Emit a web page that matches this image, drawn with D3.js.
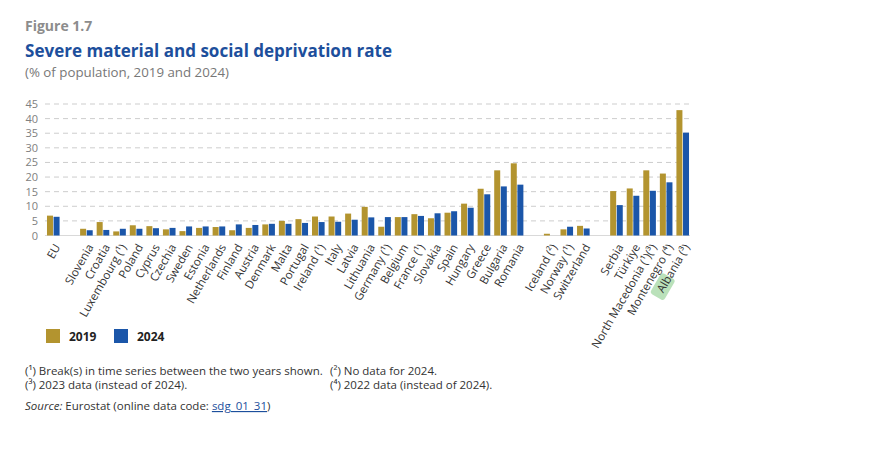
<!DOCTYPE html>
<html>
<head>
<meta charset="utf-8">
<script src="https://d3js.org/d3.v7.min.js"></script>
<style>
  body { margin: 0; background: #fff; }
  text { font-family: "Open Sans", "Noto Sans", sans-serif; }
</style>
</head>
<body>
<svg width="870" height="466"></svg>
<script>
// categories ("" entries are the gaps between country groups)
var categories = ["EU", "", "Slovenia", "Croatia", "Luxembourg (¹)", "Poland", "Cyprus", "Czechia",
  "Sweden", "Estonia", "Netherlands", "Finland", "Austria", "Denmark", "Malta", "Portugal",
  "Ireland (¹)", "Italy", "Latvia", "Lithuania", "Germany (¹)", "Belgium", "France (¹)", "Slovakia",
  "Spain", "Hungary", "Greece", "Bulgaria", "Romania", "", "Iceland (²)", "Norway (¹)", "Switzerland",
  "", "Serbia", "Türkiye", "North Macedonia (¹)(³)", "Montenegro (⁴)", "Albania (³)"];

var values2019 = [6.8, null, 2.3, 4.6, 1.4, 3.5, 3.2, 2.1,
  1.5, 2.6, 2.9, 1.8, 2.6, 3.8, 5.0, 5.6,
  6.5, 6.5, 7.5, 9.8, 3.0, 6.3, 7.3, 5.9,
  7.8, 10.9, 16.0, 22.3, 24.7, null, 0.6, 2.1, 3.3,
  null, 15.2, 16.1, 22.3, 21.2, 42.9];

var values2024 = [6.4, null, 1.8, 1.9, 2.3, 2.3, 2.5, 2.6,
  3.1, 3.1, 3.1, 3.8, 3.6, 4.0, 4.0, 4.3,
  4.6, 4.7, 5.4, 6.2, 6.3, 6.3, 6.7, 7.6,
  8.3, 9.5, 14.1, 16.8, 17.4, null, null, 3.0, 2.4,
  null, 10.4, 13.6, 15.3, 18.2, 35.2];

var yTicks = [0, 5, 10, 15, 20, 25, 30, 35, 40, 45];
var seriesNames = ["2019", "2024"];
var colors = ["#b3942f", "#1b56a9"];

var svg = d3.select("svg");

var keys = categories.map(function(c, i) { return i; });
var x = d3.scaleBand().domain(keys).range([45, 691]).padding(0);
var y = d3.scaleLinear().domain([0, 45]).range([235.5, 104]);
var barW = 6;

// titles
svg.append("text").attr("x", 25).attr("y", 31)
  .attr("font-size", 14).attr("font-weight", "bold").attr("fill", "#8c8c8c")
  .text("Figure 1.7");
svg.append("text").attr("x", 25).attr("y", 57)
  .attr("font-size", 18).attr("font-weight", "bold").attr("fill", "#1d4f9c")
  .attr("textLength", 367).attr("lengthAdjust", "spacingAndGlyphs")
  .text("Severe material and social deprivation rate");
svg.append("text").attr("x", 25).attr("y", 77)
  .attr("font-size", 13.3).attr("fill", "#777")
  .text("(% of population, 2019 and 2024)");

// gridlines
svg.append("g").selectAll("line").data(yTicks.filter(function(d) { return d > 0; }))
  .enter().append("line")
  .attr("x1", 45).attr("x2", 690)
  .attr("y1", function(d) { return y(d); }).attr("y2", function(d) { return y(d); })
  .attr("stroke", "#cdcdcd").attr("stroke-dasharray", "5,4").attr("stroke-width", 1);
svg.append("line").attr("x1", 45).attr("x2", 690)
  .attr("y1", y(0)).attr("y2", y(0)).attr("stroke", "#d9d9d9");

// y axis
var yAxis = svg.append("g").attr("transform", "translate(40,0)")
  .call(d3.axisLeft(y).tickValues(yTicks).tickSize(0).tickPadding(2));
yAxis.select(".domain").remove();
yAxis.selectAll("text").attr("font-size", 11).attr("fill", "#808080")
  .attr("font-family", "Open Sans, sans-serif");

// bars
var series = [values2019, values2024];
series.forEach(function(vals, s) {
  svg.append("g").selectAll("rect")
    .data(vals.map(function(v, i) { return {i: i, v: v}; }).filter(function(d) { return d.v != null; }))
    .enter().append("rect")
    .attr("x", function(d) { return x(d.i) + x.bandwidth() / 2 + (s === 0 ? -barW - 0.3 : 0.3); })
    .attr("y", function(d) { return y(d.v); })
    .attr("width", barW)
    .attr("height", function(d) { return y(0) - y(d.v); })
    .attr("fill", colors[s]);
});

// x axis labels
var xAxis = svg.append("g").attr("transform", "translate(0,242)")
  .call(d3.axisBottom(x).tickSize(0).tickFormat(function(d) { return categories[d]; }));
xAxis.select(".domain").remove();
xAxis.selectAll(".tick").each(function(d) {
  if (categories[d] === "Albania (³)") {
    d3.select(this).insert("rect", "text")
      .attr("x", -60).attr("y", -8).attr("width", 24).attr("height", 16).attr("rx", 3)
      .attr("fill", "#a9d9a9").attr("opacity", 0.8)
      .attr("transform", "translate(4,3) rotate(-60)");
  }
});
xAxis.selectAll("text")
  .attr("font-size", 11.5).attr("fill", "#333")
  .attr("font-family", "Open Sans, sans-serif")
  .attr("text-anchor", "end")
  .attr("dy", "0.35em")
  .attr("y", 0)
  .attr("transform", "translate(4,3) rotate(-60)");

// legend
var legend = svg.append("g").attr("transform", "translate(46,329)");
seriesNames.forEach(function(name, i) {
  var g = legend.append("g").attr("transform", "translate(" + (i * 68) + ",0)");
  g.append("rect").attr("width", 14).attr("height", 14).attr("fill", colors[i]);
  g.append("text").attr("x", 23).attr("y", 11.5)
    .attr("font-size", 12).attr("font-weight", "bold").attr("fill", "#222").text(name);
});

// footnotes
var notes = svg.append("g").attr("font-size", 11.5).attr("fill", "#333");
notes.append("text").attr("x", 25).attr("y", 375).text("(¹) Break(s) in time series between the two years shown.");
notes.append("text").attr("x", 330).attr("y", 375).text("(²) No data for 2024.");
notes.append("text").attr("x", 25).attr("y", 389).text("(³) 2023 data (instead of 2024).");
notes.append("text").attr("x", 330).attr("y", 389).text("(⁴) 2022 data (instead of 2024).");
var src = notes.append("text").attr("x", 25).attr("y", 410);
src.append("tspan").attr("font-style", "italic").text("Source: ");
src.append("tspan").text("Eurostat (online data code: ");
src.append("tspan").attr("fill", "#1d4f9c").attr("text-decoration", "underline").text("sdg_01_31");
src.append("tspan").text(")");
</script>
</body>
</html>
